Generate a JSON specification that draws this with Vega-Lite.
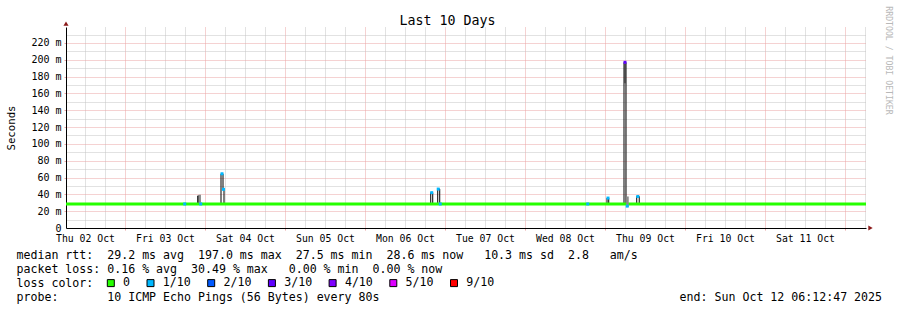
{
  "$schema": "https://vega.github.io/schema/vega-lite/v6.json",
  "width": 800,
  "height": 201,
  "autosize": {"type": "none"},
  "padding": {"left": 66, "top": 27, "right": 31, "bottom": 82},
  "background": "#ffffff",
  "config": {"view": {"stroke": null}, "font": "DejaVu Sans Mono"},
  "datasets": {
    "median": [
      {"t": "2025-10-02T06:18", "v": 28.6},
      {"t": "2025-10-03T21:49", "v": 38.2},
      {"t": "2025-10-03T22:07", "v": 28.6},
      {"t": "2025-10-04T04:48", "v": 64.5},
      {"t": "2025-10-04T05:24", "v": 46},
      {"t": "2025-10-04T05:42", "v": 28.6},
      {"t": "2025-10-06T19:43", "v": 42},
      {"t": "2025-10-06T20:19", "v": 28.6},
      {"t": "2025-10-06T21:49", "v": 46.3},
      {"t": "2025-10-06T22:25", "v": 28.6},
      {"t": "2025-10-09T00:36", "v": 35.6},
      {"t": "2025-10-09T01:07", "v": 28.6},
      {"t": "2025-10-09T05:42", "v": 197},
      {"t": "2025-10-09T06:18", "v": 28.6},
      {"t": "2025-10-09T09:31", "v": 37.5},
      {"t": "2025-10-09T10:16", "v": 28.6},
      {"t": "2025-10-12T06:18", "v": 28.6}
    ],
    "green": [
      {"t": "2025-10-02T06:18", "v": 28.6},
      {"t": "2025-10-12T06:18", "v": 28.6}
    ],
    "smoke": [
      {"t": "2025-10-03T22:25", "lo": 30, "hi": 39.6},
      {"t": "2025-10-09T06:45", "lo": 25, "hi": 37.5}
    ],
    "smokeDark": [
      {"t": "2025-10-09T06:00", "lo": 172, "hi": 195}
    ],
    "loss": [
      {"t": "2025-10-03T17:55", "v": 28.6, "loss": "1/10"},
      {"t": "2025-10-03T22:43", "v": 28.6, "loss": "1/10"},
      {"t": "2025-10-04T05:06", "v": 64.5, "loss": "1/10"},
      {"t": "2025-10-04T05:33", "v": 46, "loss": "1/10"},
      {"t": "2025-10-06T20:01", "v": 42, "loss": "1/10"},
      {"t": "2025-10-06T21:58", "v": 46.3, "loss": "1/10"},
      {"t": "2025-10-06T22:34", "v": 28.6, "loss": "1/10"},
      {"t": "2025-10-08T18:49", "v": 28.6, "loss": "1/10"},
      {"t": "2025-10-09T00:54", "v": 35.6, "loss": "1/10"},
      {"t": "2025-10-09T06:00", "v": 197, "loss": "3/10"},
      {"t": "2025-10-09T06:40", "v": 26, "loss": "1/10"},
      {"t": "2025-10-09T09:50", "v": 37.5, "loss": "1/10"}
    ],
    "arrowX": [{"t": "2025-10-12T07:39", "v": 0}],
    "arrowY": [{"t": "2025-10-02T06:18", "v": 243}]
  },
  "resolve": {"axis": {"x": "independent", "y": "independent"}},
  "layer": [
    {
      "data": {"name": "median"},
      "mark": {"type": "line", "color": "#000000", "strokeWidth": 1, "interpolate": "step-after"},
      "encoding": {
        "x": {"field": "t", "type": "temporal",
          "scale": {"domain": [{"year": 2025, "month": 10, "date": 2, "hours": 6, "minutes": 18}, {"year": 2025, "month": 10, "date": 12, "hours": 6, "minutes": 18}], "nice": false},
          "axis": {"orient": "bottom",
            "values": [
              {"year": 2025, "month": 10, "date": 3}, {"year": 2025, "month": 10, "date": 4}, {"year": 2025, "month": 10, "date": 5},
              {"year": 2025, "month": 10, "date": 6}, {"year": 2025, "month": 10, "date": 7}, {"year": 2025, "month": 10, "date": 8},
              {"year": 2025, "month": 10, "date": 9}, {"year": 2025, "month": 10, "date": 10}, {"year": 2025, "month": 10, "date": 11},
              {"year": 2025, "month": 10, "date": 12}
            ],
            "grid": true, "gridColor": "#eaa5a5", "gridDash": [1, 1], "gridWidth": 1,
            "ticks": true, "tickSize": 2, "tickColor": "#eaa5a5", "tickWidth": 1,
            "labels": false, "domain": false, "title": null}},
        "y": {"field": "v", "type": "quantitative",
          "scale": {"domain": [0, 239], "nice": false, "zero": false},
          "axis": {"orient": "left", "values": [20, 40, 60, 80, 100, 120, 140, 160, 180, 200, 220],
            "grid": true, "gridColor": "#eaa5a5", "gridDash": [1, 1], "gridWidth": 1,
            "ticks": true, "tickSize": 2, "tickColor": "#eaa5a5", "tickWidth": 1,
            "labels": false, "domain": false, "title": null}}
      }
    },
    {
      "data": {"name": "green"},
      "mark": {"type": "line", "color": "#26ff00", "strokeWidth": 3, "interpolate": "step-after"},
      "encoding": {
        "x": {"field": "t", "type": "temporal",
          "scale": {"domain": [{"year": 2025, "month": 10, "date": 2, "hours": 6, "minutes": 18}, {"year": 2025, "month": 10, "date": 12, "hours": 6, "minutes": 18}], "nice": false},
          "axis": {"orient": "bottom",
            "values": [
              {"year": 2025, "month": 10, "date": 2, "hours": 12}, {"year": 2025, "month": 10, "date": 2, "hours": 18},
              {"year": 2025, "month": 10, "date": 3, "hours": 6}, {"year": 2025, "month": 10, "date": 3, "hours": 12}, {"year": 2025, "month": 10, "date": 3, "hours": 18},
              {"year": 2025, "month": 10, "date": 4, "hours": 6}, {"year": 2025, "month": 10, "date": 4, "hours": 12}, {"year": 2025, "month": 10, "date": 4, "hours": 18},
              {"year": 2025, "month": 10, "date": 5, "hours": 6}, {"year": 2025, "month": 10, "date": 5, "hours": 12}, {"year": 2025, "month": 10, "date": 5, "hours": 18},
              {"year": 2025, "month": 10, "date": 6, "hours": 6}, {"year": 2025, "month": 10, "date": 6, "hours": 12}, {"year": 2025, "month": 10, "date": 6, "hours": 18},
              {"year": 2025, "month": 10, "date": 7, "hours": 6}, {"year": 2025, "month": 10, "date": 7, "hours": 12}, {"year": 2025, "month": 10, "date": 7, "hours": 18},
              {"year": 2025, "month": 10, "date": 8, "hours": 6}, {"year": 2025, "month": 10, "date": 8, "hours": 12}, {"year": 2025, "month": 10, "date": 8, "hours": 18},
              {"year": 2025, "month": 10, "date": 9, "hours": 6}, {"year": 2025, "month": 10, "date": 9, "hours": 12}, {"year": 2025, "month": 10, "date": 9, "hours": 18},
              {"year": 2025, "month": 10, "date": 10, "hours": 6}, {"year": 2025, "month": 10, "date": 10, "hours": 12}, {"year": 2025, "month": 10, "date": 10, "hours": 18},
              {"year": 2025, "month": 10, "date": 11, "hours": 6}, {"year": 2025, "month": 10, "date": 11, "hours": 12}, {"year": 2025, "month": 10, "date": 11, "hours": 18},
              {"year": 2025, "month": 10, "date": 12, "hours": 6}
            ],
            "grid": true, "gridColor": "#c4c4c4", "gridDash": [1, 1], "gridWidth": 1, "ticks": false, "labels": false, "domain": false, "title": null}},
        "y": {"field": "v", "type": "quantitative",
          "scale": {"domain": [0, 239], "nice": false, "zero": false},
          "axis": {"orient": "left", "values": [10, 30, 50, 70, 90, 110, 130, 150, 170, 190, 210, 230], "grid": true, "gridColor": "#c4c4c4", "gridDash": [1, 1], "gridWidth": 1, "ticks": false, "labels": false, "domain": false, "title": null}}
      }
    },
    {
      "data": {"name": "smoke"},
      "mark": {"type": "rule", "color": "#8c8c8c", "strokeWidth": 2.5},
      "encoding": {
        "x": {"field": "t", "type": "temporal", "axis": null,
          "scale": {"domain": [{"year": 2025, "month": 10, "date": 2, "hours": 6, "minutes": 18}, {"year": 2025, "month": 10, "date": 12, "hours": 6, "minutes": 18}], "nice": false}},
        "y": {"field": "lo", "type": "quantitative", "axis": null, "scale": {"domain": [0, 239], "nice": false, "zero": false}},
        "y2": {"field": "hi"}
      }
    },
    {
      "data": {"name": "smokeDark"},
      "mark": {"type": "rule", "color": "#3c3c3c", "strokeWidth": 1.5},
      "encoding": {
        "x": {"field": "t", "type": "temporal", "axis": null,
          "scale": {"domain": [{"year": 2025, "month": 10, "date": 2, "hours": 6, "minutes": 18}, {"year": 2025, "month": 10, "date": 12, "hours": 6, "minutes": 18}], "nice": false}},
        "y": {"field": "lo", "type": "quantitative", "axis": null, "scale": {"domain": [0, 239], "nice": false, "zero": false}},
        "y2": {"field": "hi"}
      }
    },
    {
      "data": {"name": "loss"},
      "mark": {"type": "point", "shape": "square", "filled": true, "size": 9, "opacity": 1},
      "encoding": {
        "x": {"field": "t", "type": "temporal",
          "scale": {"domain": [{"year": 2025, "month": 10, "date": 2, "hours": 6, "minutes": 18}, {"year": 2025, "month": 10, "date": 12, "hours": 6, "minutes": 18}], "nice": false},
          "axis": {
            "orient": "bottom",
            "values": [
              {"year": 2025, "month": 10, "date": 2, "hours": 12},
              {"year": 2025, "month": 10, "date": 3, "hours": 12},
              {"year": 2025, "month": 10, "date": 4, "hours": 12},
              {"year": 2025, "month": 10, "date": 5, "hours": 12},
              {"year": 2025, "month": 10, "date": 6, "hours": 12},
              {"year": 2025, "month": 10, "date": 7, "hours": 12},
              {"year": 2025, "month": 10, "date": 8, "hours": 12},
              {"year": 2025, "month": 10, "date": 9, "hours": 12},
              {"year": 2025, "month": 10, "date": 10, "hours": 12},
              {"year": 2025, "month": 10, "date": 11, "hours": 12}
            ],
            "format": "%a %d %b",
            "labelFont": "DejaVu Sans Mono", "labelFontSize": 9.8, "labelColor": "#000000",
            "labelPadding": 5.7, "labelAngle": 0, "labelAlign": "center", "labelBaseline": "top",
            "labelFlush": false, "labelOverlap": false,
            "ticks": false, "grid": false,
            "domain": true, "domainColor": "#000000", "domainWidth": 1,
            "title": [
              "median rtt:\u00a0\u00a029.2 ms avg\u00a0\u00a0197.0 ms max\u00a0\u00a027.5 ms min\u00a0\u00a028.6 ms now\u00a0\u00a0\u00a010.3 ms sd\u00a0\u00a02.8\u00a0\u00a0\u00a0am/s",
              "packet loss: 0.16 % avg\u00a0\u00a030.49 % max\u00a0\u00a0\u00a00.00 % min\u00a0\u00a00.00 % now",
              "loss color:",
              "probe:\u00a0\u00a0\u00a0\u00a0\u00a0\u00a0\u00a010 ICMP Echo Pings (56 Bytes) every 80s\u00a0\u00a0\u00a0\u00a0\u00a0\u00a0\u00a0\u00a0\u00a0\u00a0\u00a0\u00a0\u00a0\u00a0\u00a0\u00a0\u00a0\u00a0\u00a0\u00a0\u00a0\u00a0\u00a0\u00a0\u00a0\u00a0\u00a0\u00a0\u00a0\u00a0\u00a0\u00a0\u00a0\u00a0\u00a0\u00a0\u00a0\u00a0\u00a0\u00a0\u00a0\u00a0\u00a0end: Sun Oct 12 06:12:47 2025"
            ],
            "titleFont": "DejaVu Sans Mono", "titleFontSize": 11.6, "titleFontWeight": "normal", "titleColor": "#000000",
            "titleAlign": "left", "titleBaseline": "alphabetic", "titleX": -50, "titleY": 30, "titleLineHeight": 14, "titleAngle": 0
          }},
        "y": {"field": "v", "type": "quantitative",
          "scale": {"domain": [0, 239], "nice": false, "zero": false},
          "axis": {
            "orient": "left",
            "values": [0, 20, 40, 60, 80, 100, 120, 140, 160, 180, 200, 220],
            "labelExpr": "datum.value === 0 ? '0  ' : datum.value + ' m'",
            "labelFont": "DejaVu Sans Mono", "labelFontSize": 10, "labelColor": "#000000",
            "labelPadding": 5, "labelAlign": "right", "labelBaseline": "middle",
            "labelFlush": false, "labelOverlap": false,
            "ticks": false, "grid": false,
            "domain": true, "domainColor": "#000000", "domainWidth": 1,
            "title": "Seconds",
            "titleFont": "DejaVu Sans Mono", "titleFontSize": 10.7, "titleFontWeight": "normal", "titleColor": "#000000",
            "titleAngle": -90, "titleAlign": "center", "titleBaseline": "alphabetic", "titleX": -51.5, "titleY": 100.5
          }},
        "color": {"field": "loss", "type": "nominal",
          "scale": {"domain": ["0", "1/10", "2/10", "3/10", "4/10", "5/10", "9/10"], "range": ["#26ff00", "#00b8ff", "#0059ff", "#5e00ff", "#7e00ff", "#dd00ff", "#ff0000"]},
          "legend": {
            "orient": "none", "legendX": 39, "legendY": 250, "direction": "horizontal", "title": null,
            "symbolType": "square", "symbolSize": 49, "symbolStrokeColor": "#000000", "symbolStrokeWidth": 1, "symbolOpacity": 1,
            "labelFont": "DejaVu Sans Mono", "labelFontSize": 11.6, "labelColor": "#000000", "labelOffset": 6.5,
            "columnPadding": 13.7, "padding": 0, "rowPadding": 0
          }}
      }
    },
    {
      "data": {"name": "arrowX"},
      "mark": {"type": "point", "shape": "triangle-right", "filled": true, "size": 26, "color": "#8b1a1a", "opacity": 1},
      "encoding": {
        "x": {"field": "t", "type": "temporal",
          "scale": {"domain": [{"year": 2025, "month": 10, "date": 2, "hours": 6, "minutes": 18}, {"year": 2025, "month": 10, "date": 12, "hours": 6, "minutes": 18}], "nice": false},
          "axis": {"orient": "top", "labels": false, "ticks": false, "domain": false, "grid": false,
            "title": "Last 10 Days", "titleFont": "DejaVu Sans Mono", "titleFontSize": 13.3, "titleFontWeight": "normal", "titleColor": "#000000",
            "titleX": 381, "titleY": -2.3, "titleAlign": "center", "titleBaseline": "alphabetic", "titleAngle": 0}},
        "y": {"field": "v", "type": "quantitative",
          "scale": {"domain": [0, 239], "nice": false, "zero": false},
          "axis": {"orient": "right", "labels": false, "ticks": false, "domain": false, "grid": false,
            "title": "RRDTOOL / TOBI OETIKER", "titleFont": "DejaVu Sans Mono", "titleFontSize": 8.2, "titleFontWeight": "normal", "titleColor": "#b8b8b8",
            "titleAngle": 90, "titleX": 19, "titleY": 33, "titleAlign": "center", "titleBaseline": "alphabetic"}}
      }
    },
    {
      "data": {"name": "arrowY"},
      "mark": {"type": "point", "shape": "triangle-up", "filled": true, "size": 26, "color": "#8b1a1a", "opacity": 1},
      "encoding": {
        "x": {"field": "t", "type": "temporal", "axis": null,
          "scale": {"domain": [{"year": 2025, "month": 10, "date": 2, "hours": 6, "minutes": 18}, {"year": 2025, "month": 10, "date": 12, "hours": 6, "minutes": 18}], "nice": false}},
        "y": {"field": "v", "type": "quantitative", "axis": null, "scale": {"domain": [0, 239], "nice": false, "zero": false}}
      }
    }
  ]
}
